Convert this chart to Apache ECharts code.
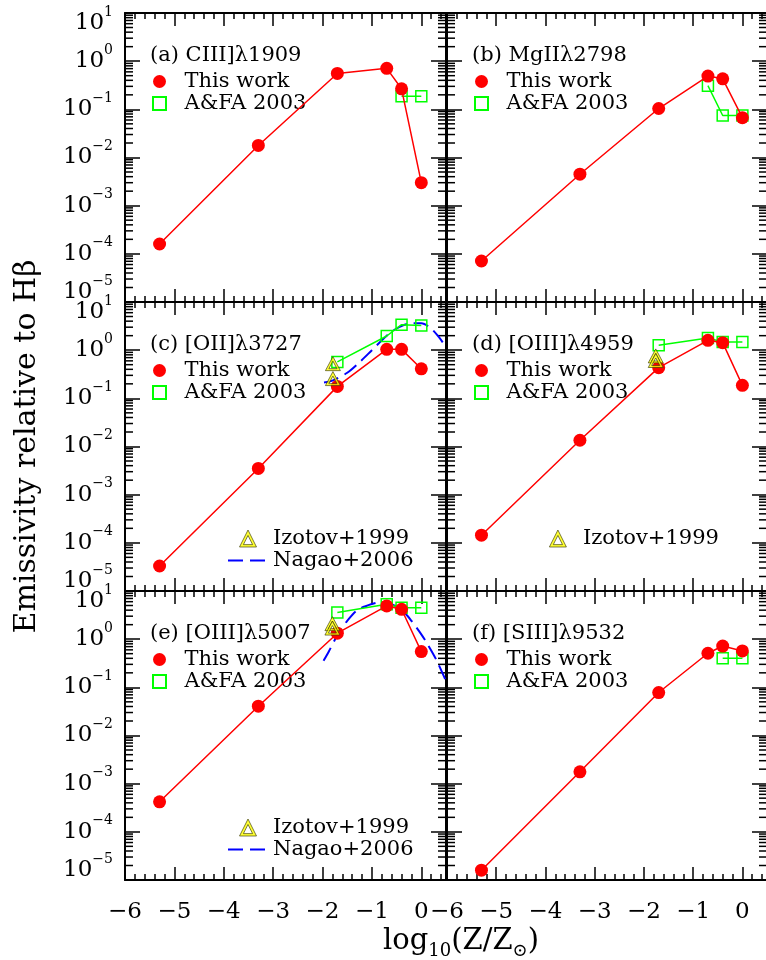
<!DOCTYPE html>
<html><head><meta charset="utf-8">
<script src="https://cdn.jsdelivr.net/npm/echarts@6/dist/echarts.min.js"></script>
<style>html,body{margin:0;padding:0;background:#fff}#c{width:766px;height:960px}</style>
</head><body><div id="c"></div>
<script>
// ---------------- data ----------------
const zModel = [-5.3, -3.3, -1.7, -0.7, -0.4, 0.0];
const thisWorkA = [1.6e-4, 0.0178, 0.556, 0.71, 0.267, 0.0030];
const thisWorkB = [7.1e-5, 4.5e-3, 0.104, 0.49, 0.43, 0.067];
const thisWorkC = [3.3e-5, 3.5e-3, 0.177, 1.04, 1.04, 0.41];
const thisWorkD = [1.44e-4, 0.0135, 0.434, 1.6, 1.43, 0.186];
const thisWorkE = [4.2e-4, 0.0406, 1.33, 4.9, 4.17, 0.553];
const thisWorkF = [1.6e-5, 1.76e-3, 0.078, 0.51, 0.72, 0.57];

const afaZA = [-0.4, 0.0], afaA = [0.186, 0.186];
const afaZB = [-0.7, -0.4, 0.0], afaB = [0.31, 0.0746, 0.0746];
const afaZC = [-1.7, -0.7, -0.4, 0.0], afaC = [0.57, 1.97, 3.38, 3.27];
const afaZD = [-1.7, -0.7, -0.4, 0.0], afaD = [1.26, 1.79, 1.48, 1.48];
const afaZE = [-1.7, -0.7, -0.4, 0.0], afaE = [3.56, 5.3, 4.5, 4.5];
const afaZF = [-0.4, 0.0], afaF = [0.40, 0.40];

const izotovZC = [-1.79, -1.79], izotovC = [0.525, 0.257];
const izotovZD = [-1.76, -1.76], izotovD = [0.76, 0.61];
const izotovZE = [-1.8, -1.8], izotovE = [2.1, 1.7];

const nagaoZC = [-1.97, -1.8, -1.5, -1.25, -1.0, -0.7, -0.45, -0.2, 0.0, 0.2, 0.35, 0.5];
const nagaoC = [0.214, 0.234, 0.339, 0.562, 1.0, 2.0, 3.02, 3.63, 3.63, 2.8, 1.9, 1.15];
const nagaoZE = [-1.98, -1.87, -1.67, -1.5, -1.3, -1.0, -0.8, -0.55, -0.31, -0.2, 0.0, 0.13, 0.3, 0.5];
const nagaoE = [0.355, 0.562, 1.38, 2.40, 3.98, 5.37, 5.89, 5.01, 3.31, 2.40, 1.26, 0.776, 0.380, 0.135];

const panelLabels = ['(a) CIII]\u03bb1909', '(b) MgII\u03bb2798', '(c) [OII]\u03bb3727',
                     '(d) [OIII]\u03bb4959', '(e) [OIII]\u03bb5007', '(f) [SIII]\u03bb9532'];
const xMin = -6, xMax = 0.5, yMinExp = -5, yMaxExp = 1;
const yTitle = 'Emissivity relative to H\u03b2';

// ---------------- layout / build ----------------
const FONT = "'DejaVu Serif', serif";
const rowTops = [13, 302, 591], rowH = 289;
const cols = [{left: 125, width: 321}, {left: 447, width: 320}];
const SQUARE = 'path://M0,0L10,0L10,10L0,10Z';
const TRI = 'path://M0,10L5,0L10,10ZM2.3,8.6L7.7,8.6L5,3.2Z';
const triStyle = {color: '#ffff00', borderColor: '#333300', borderWidth: 0.8};

const panels = [
  {tw: thisWorkA, afaZ: afaZA, afa: afaA},
  {tw: thisWorkB, afaZ: afaZB, afa: afaB},
  {tw: thisWorkC, afaZ: afaZC, afa: afaC, izZ: izotovZC, iz: izotovC, naZ: nagaoZC, na: nagaoC},
  {tw: thisWorkD, afaZ: afaZD, afa: afaD, izZ: izotovZD, iz: izotovD},
  {tw: thisWorkE, afaZ: afaZE, afa: afaE, izZ: izotovZE, iz: izotovE, naZ: nagaoZE, na: nagaoE},
  {tw: thisWorkF, afaZ: afaZF, afa: afaF}
];

const pairs = (xs, ys) => xs.map((x, i) => [x, Math.log10(ys[i])]);
const minus = v => (v < 0 ? '\u2212' : '') + Math.abs(v);

const minorLogs = [];
for (let n = yMinExp; n < yMaxExp; n++) for (let k = 2; k <= 9; k++) minorLogs.push([xMin, n + Math.log10(k)]);

const grids = [], xAxes = [], yAxes = [], series = [], titles = [], legends = [];
const tickStyle = {color: '#000', width: 1.5};

panels.forEach((p, i) => {
  const row = Math.floor(i / 2), col = i % 2;
  const top = rowTops[row], left = cols[col].left;
  grids.push({left: left, top: top, width: cols[col].width, height: rowH, containLabel: false, outerBoundsMode: 'none'});
  const xBase = {
    type: 'value', gridIndex: i, min: xMin, max: xMax, interval: 1,
    axisLine: {show: true, onZero: false, lineStyle: {color: '#000', width: 2}},
    axisTick: {show: true, inside: true, length: 13, lineStyle: tickStyle},
    minorTick: {show: true, splitNumber: 5, length: 6, lineStyle: tickStyle},
    splitLine: {show: false}, minorSplitLine: {show: false}
  };
  xAxes.push(Object.assign({}, xBase, {position: 'bottom',
    axisLabel: {show: row === 2, showMaxLabel: false, showMinLabel: true, margin: 21, formatter: minus,
      fontFamily: FONT, fontSize: 23, color: '#000'}}));
  xAxes.push(Object.assign({}, xBase, {position: 'top', axisLabel: {show: false}}));
  const yBase = {
    type: 'value', gridIndex: i, min: yMinExp, max: yMaxExp, interval: 1,
    axisLine: {show: true, onZero: false, lineStyle: {color: '#000', width: 2}},
    axisTick: {show: true, inside: true, length: 15, lineStyle: tickStyle},
    splitLine: {show: false}
  };
  const yl = Object.assign({}, yBase, {position: 'left',
    axisLabel: {show: col === 0, margin: 12, showMinLabel: true, showMaxLabel: true,
      formatter: v => {
        const e = Math.round(v);
        const k = e === yMinExp ? 'lo' : (e === yMaxExp ? 'hi' : 'md');
        return '{b' + k + '|10}{s' + k + '|' + minus(e) + '}';
      },
      rich: {
        bmd: {fontFamily: FONT, fontSize: 23, color: '#000'},
        smd: {fontFamily: FONT, fontSize: 14, color: '#000', padding: [0, 0, 22, 0]},
        blo: {fontFamily: FONT, fontSize: 23, color: '#000', padding: [0, 0, 20, 0]},
        slo: {fontFamily: FONT, fontSize: 14, color: '#000', padding: [0, 0, 42, 0]},
        bhi: {fontFamily: FONT, fontSize: 23, color: '#000', padding: [20, 0, 0, 0]},
        shi: {fontFamily: FONT, fontSize: 14, color: '#000', padding: [0, 0, 2, 0]}
      }}});
  if (i === 2) {
    yl.name = yTitle; yl.nameLocation = 'middle'; yl.nameGap = 83;
    yl.nameTextStyle = {fontFamily: FONT, fontSize: 30, color: '#000'};
  }
  yAxes.push(yl);
  yAxes.push(Object.assign({}, yBase, {position: 'right', axisLabel: {show: false}}));

  const xi = 2 * i, yi = 2 * i;
  // minor ticks of the logarithmic y axis (both sides)
  series.push({
    type: 'custom', xAxisIndex: xi, yAxisIndex: yi, silent: true, z: 1,
    data: minorLogs,
    renderItem: (params, api) => {
      const y = api.value(1);
      const a = api.coord([xMin, y]), b = api.coord([xMax, y]);
      return {type: 'group', children: [
        {type: 'line', shape: {x1: a[0], y1: a[1], x2: a[0] + 8, y2: a[1]}, style: {stroke: '#000', lineWidth: 1.5}},
        {type: 'line', shape: {x1: b[0], y1: b[1], x2: b[0] - 8, y2: b[1]}, style: {stroke: '#000', lineWidth: 1.5}}
      ]};
    }
  });
  if (p.naZ) series.push({
    name: 'Nagao+2006', type: 'line', xAxisIndex: xi, yAxisIndex: yi, z: 2,
    data: pairs(p.naZ, p.na), symbol: 'none', smooth: 0.3,
    lineStyle: {color: '#0000ff', width: 2, type: [15, 7]}, itemStyle: {color: '#0000ff'}
  });
  series.push({
    name: 'A&FA 2003', type: 'line', xAxisIndex: xi, yAxisIndex: yi, z: 3,
    data: pairs(p.afaZ, p.afa), symbol: 'rect', symbolSize: 11,
    lineStyle: {color: '#00ff00', width: 1.5},
    itemStyle: {color: 'rgba(255,255,255,0)', borderColor: '#00ff00', borderWidth: 1.5}
  });
  series.push({
    name: 'This work', type: 'line', xAxisIndex: xi, yAxisIndex: yi, z: 4,
    data: pairs(zModel, p.tw), symbol: 'circle', symbolSize: 13,
    lineStyle: {color: '#ff0000', width: 1.5}, itemStyle: {color: '#ff0000'}
  });
  if (p.izZ) series.push({
    name: 'Izotov+1999', type: 'scatter', xAxisIndex: xi, yAxisIndex: yi, z: 5,
    data: pairs(p.izZ, p.iz), symbol: TRI, symbolSize: [15, 14], symbolKeepAspect: true,
    itemStyle: triStyle
  });

  titles.push({text: panelLabels[i], left: left + 25, top: top + 32, padding: 0,
    textStyle: {fontFamily: FONT, fontSize: 21, fontWeight: 'normal', color: '#000'}});
  legends.push({left: left + 27, top: top + 58, orient: 'vertical', padding: 0, itemGap: 1,
    itemWidth: 40, itemHeight: 13, selectedMode: false, symbolKeepAspect: true,
    textStyle: {fontFamily: FONT, fontSize: 21, color: '#000'},
    data: [{name: 'This work', icon: 'circle'}, {name: 'A&FA 2003', icon: SQUARE}]});
  if (p.izZ) {
    const ld = [{name: 'Izotov+1999', icon: TRI, itemStyle: triStyle}];
    if (p.naZ) ld.push({name: 'Nagao+2006',
      itemStyle: {color: 'rgba(0,0,0,0)', borderColor: 'rgba(0,0,0,0)', borderWidth: 0, opacity: 0}});
    legends.push({left: left + 102, top: top + 226, orient: 'vertical', padding: 0, itemGap: 1,
      itemWidth: 40, itemHeight: 17, selectedMode: false, symbolKeepAspect: true,
      textStyle: {fontFamily: FONT, fontSize: 21, color: '#000'}, data: ld});
  }
});

titles.push({text: 'log{sub|10}(Z/Z{sub|\u2299})', left: 383, top: 922, padding: 0,
  textStyle: {fontFamily: FONT, fontSize: 29, fontWeight: 'normal', color: '#000',
    rich: {sub: {fontFamily: FONT, fontSize: 18, color: '#000', padding: [20, 0, 0, 0]}}}});

const chart = echarts.init(document.getElementById('c'), null, {renderer: 'canvas'});
chart.setOption({
  animation: false, backgroundColor: '#fff',
  title: titles, legend: legends, grid: grids, xAxis: xAxes, yAxis: yAxes, series: series
});
</script></body></html>
